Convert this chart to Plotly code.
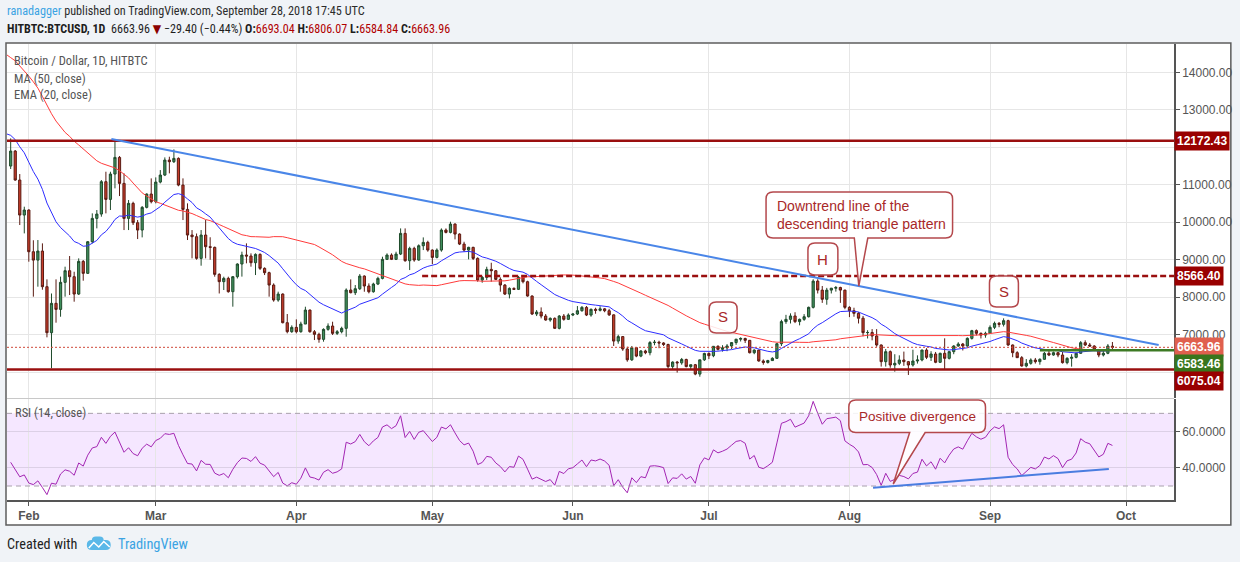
import numpy as np
import pandas as pd
import plotly.graph_objects as go
from plotly.subplots import make_subplots

# daily closes before the visible window (Dec 8 - Jan 27), only used to warm up MA/EMA/RSI
pre_start = '2017-12-08'
pre_closes = [
    16400, 15600, 15400, 16700, 17100, 16400, 16600, 17600, 19300, 19100, 18900, 17500,
    16500, 15700, 13800, 14600, 13900, 14000, 15800, 15400, 14400, 14400, 12600, 13800,
    13400, 14700, 15100, 15100, 16900, 17100, 16200, 14900, 14400, 14900, 13300, 13900,
    14200, 13600, 13600, 11300, 11200, 11500, 11700, 12800, 11500, 10800, 10900, 11400,
    11200, 11100, 11500,
]

start = '2018-01-28'
opens = [
    11499, 11899, 11126, 10192,
    10326, 9214, 8990, 9232, 8281, 7054, 7837, 7676, 8397, 8708, 8548, 8085, 8957, 8637,
    9481, 10103, 10219, 11082, 10610, 11286, 11730, 11037, 10103, 10504, 9988, 9792, 10397, 10752,
    10548, 11072, 11259, 11659, 11615, 11704, 10992, 10343, 9659, 9615, 9037, 9659, 9348, 9330,
    8610, 8415, 8503, 8148, 8548, 8886, 9126, 9099, 8921, 9143, 8770, 8655, 8325, 7925, 8085, 7321, 7081,
    7196, 7080, 7285, 7658, 7080, 7010, 6876, 7143, 7232, 7036, 7080, 7170, 8192, 8121, 8227,
    8565, 8299, 8147, 8352, 8503, 9010, 9125, 9010, 9152, 9703, 8974, 9303, 8992, 9374, 9463,
    9258, 9063, 9258, 9792, 9730, 9952, 9685, 9418, 9258, 9330, 9036, 8458, 8530, 8743, 8707,
    8476, 8325, 8085, 8236, 8210, 8530, 8414, 8032, 7552, 7605, 7498, 7392, 7436, 7170, 7498, 7410,
    7525, 7552, 7640, 7729, 7525, 7677, 7650, 7690, 7640, 7530, 6830, 6950, 6620, 6330, 6655,
    6430, 6566, 6520, 6790, 6800, 6780, 6740, 6150, 6270, 6250, 6340, 6150, 6200, 5950, 6330,
    6500, 6440, 6690, 6610, 6650, 6700, 6790, 6880, 6900, 6850, 6520, 6590, 6300, 6260, 6310,
    6370, 6760, 7350, 7410, 7500, 7350, 7410, 7480, 7730, 8430, 8190, 7945, 8190, 8240, 8260, 8190,
    7730, 7640, 7570, 7440, 7055, 7060, 6966, 6726, 6281, 6548, 6192, 6237, 6326, 6281, 6192,
    6299, 6326, 6592, 6397, 6486, 6264, 6504, 6370, 6548, 6699, 6752, 6699, 6903, 7108, 7037, 6990,
    7037, 7197, 7304, 7277, 7375, 6726, 6521, 6388, 6166, 6237, 6326, 6281, 6344, 6504,
    6459, 6521, 6459, 6255, 6370, 6397, 6504, 6788, 6726, 6699, 6592, 6459, 6504, 6693.04,
]
highs = [
    12237, 11926, 11286, 10415,
    10344, 9520, 9526, 9437, 8477, 8100, 8477, 8550, 8815, 9099, 8680, 9037, 8992, 9499,
    10237, 10326, 11126, 11348, 11348, 12193, 11766, 11304, 10593, 10548, 10059, 10432, 10770, 11170,
    11197, 11392, 11730, 11748, 11944, 11730, 11170, 10504, 9792, 9700, 9792, 10059, 9600, 9350,
    8640, 8548, 8548, 8566, 8904, 9215, 9437, 9170, 9170, 9170, 8797, 8681, 8370, 8148, 8103, 7552, 7250,
    7410, 7347, 7747, 7670, 7125, 7054, 7170, 7303, 7347, 7125, 7214, 8236, 8476, 8325, 8618,
    8583, 8370, 8387, 8547, 9081, 9170, 9170, 9214, 9836, 9836, 9347, 9347, 9410, 9596, 9507,
    9276, 9303, 9836, 9836, 10014, 9970, 9703, 9480, 9347, 9347, 9063, 8565, 8814, 8920, 8725,
    8530, 8352, 8263, 8263, 8565, 8592, 8440, 8050, 7658, 7729, 7552, 7463, 7463, 7525, 7552, 7570,
    7570, 7765, 7765, 7765, 7700, 7720, 7760, 7710, 7690, 7540, 7000, 6960, 6680, 6700, 6670,
    6590, 6600, 6830, 6860, 6840, 6800, 6760, 6290, 6300, 6380, 6360, 6200, 6220, 6330, 6520,
    6530, 6700, 6720, 6720, 6750, 6800, 6890, 6930, 6920, 6860, 6610, 6600, 6340, 6330, 6400,
    6780, 7400, 7530, 7570, 7600, 7430, 7550, 7750, 8480, 8480, 8300, 8250, 8250, 8300, 8280, 8200,
    7760, 7720, 7600, 7500, 7120, 7150, 7150, 6740, 6620, 6580, 6480, 6450, 6550, 6300, 6600,
    6450, 6600, 6640, 6560, 6540, 6520, 6904, 6560, 6720, 6800, 6780, 6930, 7130, 7140, 7060, 7080,
    7250, 7350, 7340, 7437, 7400, 6740, 6560, 6430, 6350, 6370, 6380, 6370, 6540, 6600,
    6550, 6540, 6540, 6400, 6480, 6530, 6830, 6850, 6780, 6720, 6620, 6580, 6750, 6806.07,
]
lows = [
    11420, 11108, 9926, 9703,
    8948, 8015, 8281, 8200, 6930, 6104, 7321, 7480, 8015, 8059, 7881, 8059, 8441, 8620,
    9437, 9837, 10148, 10237, 10326, 10904, 10699, 9792, 9792, 9926, 9552, 9597, 10370, 10504,
    10504, 11037, 11232, 11304, 11580, 10960, 10059, 9526, 9037, 9000, 8841, 9037, 9000, 8548,
    8100, 8192, 8121, 7748, 8500, 8550, 8904, 8815, 8592, 8726, 8592, 8015, 7881, 7880, 7303, 7037, 7050,
    7036, 7054, 7285, 7054, 6858, 6787, 6814, 7107, 6992, 6992, 7036, 6947, 8103, 8059, 8192,
    8147, 8103, 8121, 8325, 8476, 8992, 8992, 8992, 9125, 8947, 8725, 8947, 8974, 9258, 9214,
    8885, 9036, 9214, 9703, 9703, 9543, 9392, 9214, 9010, 8992, 8414, 8387, 8458, 8414, 8458,
    8147, 8059, 7969, 8192, 8192, 8370, 8014, 7525, 7498, 7436, 7374, 7347, 7152, 7143, 7374, 7392,
    7498, 7525, 7614, 7498, 7480, 7560, 7620, 7600, 7500, 6700, 6760, 6570, 6280, 6300, 6400,
    6400, 6480, 6450, 6720, 6640, 6700, 6100, 6080, 5990, 6200, 6130, 6080, 5920, 5880, 6300,
    6350, 6400, 6580, 6550, 6560, 6620, 6730, 6820, 6780, 6500, 6480, 6280, 6200, 6230, 6300,
    6360, 6700, 7290, 7300, 7310, 7250, 7370, 7460, 7700, 8100, 7850, 7800, 8100, 8150, 7850, 7680,
    7470, 7480, 7300, 6960, 6900, 6850, 6680, 6150, 6150, 6120, 6015, 6190, 6170, 5926, 6150,
    6230, 6290, 6350, 6300, 6240, 6250, 6077, 6340, 6480, 6680, 6580, 6680, 6870, 6980, 6900, 6920,
    7020, 7150, 7200, 7220, 6700, 6400, 6380, 6150, 6130, 6200, 6230, 6200, 6330, 6430,
    6440, 6400, 6230, 6210, 6148, 6370, 6490, 6700, 6680, 6560, 6400, 6420, 6480, 6584.84,
]
closes = [
    11899, 11126, 10192, 10326,
    9214, 8990, 9232, 8281, 7054, 7837, 7676, 8397, 8708, 8548, 8085, 8957, 8637, 9481,
    10103, 10219, 11082, 10610, 11286, 11730, 11037, 10103, 10504, 9988, 9792, 10397, 10752, 10548,
    11072, 11259, 11659, 11615, 11704, 10992, 10343, 9659, 9615, 9037, 9659, 9348, 9330, 8610,
    8415, 8503, 8148, 8548, 8886, 9126, 9099, 8921, 9143, 8770, 8655, 8325, 7925, 8085, 7321, 7081, 7196,
    7080, 7285, 7658, 7080, 7010, 6876, 7143, 7232, 7036, 7080, 7170, 8192, 8121, 8227, 8565,
    8299, 8147, 8352, 8503, 9010, 9125, 9010, 9152, 9703, 8974, 9303, 8992, 9374, 9463, 9258,
    9063, 9258, 9792, 9730, 9952, 9685, 9418, 9258, 9330, 9036, 8458, 8530, 8743, 8707, 8476,
    8325, 8085, 8236, 8210, 8530, 8414, 8032, 7552, 7605, 7498, 7392, 7436, 7170, 7498, 7410, 7525,
    7552, 7640, 7729, 7525, 7677, 7650, 7690, 7640, 7530, 6830, 6950, 6620, 6330, 6655, 6430,
    6566, 6520, 6790, 6800, 6780, 6740, 6150, 6270, 6250, 6340, 6150, 6200, 5950, 6330, 6500,
    6440, 6690, 6610, 6650, 6700, 6790, 6880, 6900, 6850, 6520, 6590, 6300, 6260, 6310, 6370,
    6760, 7350, 7410, 7500, 7350, 7410, 7480, 7730, 8430, 8190, 7945, 8190, 8240, 8260, 8190, 7730,
    7640, 7570, 7440, 7055, 7060, 6966, 6726, 6281, 6548, 6192, 6237, 6326, 6281, 6192, 6299,
    6326, 6592, 6397, 6486, 6264, 6504, 6370, 6548, 6699, 6752, 6699, 6903, 7108, 7037, 6990, 7037,
    7197, 7304, 7277, 7375, 6726, 6521, 6388, 6166, 6237, 6326, 6281, 6344, 6504, 6459,
    6521, 6459, 6255, 6370, 6397, 6504, 6788, 6726, 6699, 6592, 6459, 6504, 6699, 6663.96,
]

# horizontal levels drawn on the chart
resistance = 12172.43
neckline = 8566.40
support = 6075.04
green_level = 6583.46
last_price = 6663.96

month_ticks = ['2018-02-01', '2018-03-01', '2018-04-01', '2018-05-01', '2018-06-01',
               '2018-07-01', '2018-08-01', '2018-09-01', '2018-10-01']
month_labels = ['Feb', 'Mar', 'Apr', 'May', 'Jun', 'Jul', 'Aug', 'Sep', 'Oct']
price_ticks = [6000, 7000, 8000, 9000, 10000, 11000, 12000, 13000, 14000]
price_labels = ['', '7000.00', '8000.00', '9000.00', '10000.00', '11000.00', '', '13000.00', '14000.00']
rsi_ticks = [40, 60]

# drawn trend lines: (date, value) pairs
trend_price = [('2018-02-19 05:00', 12219), ('2018-10-08 05:00', 6725)]
trend_rsi = [('2018-08-06 05:00', 29.1), ('2018-09-27 05:00', 39.4)]

dates = pd.date_range(start, periods=len(closes), freq='D')
all_close = pd.Series(pre_closes + closes,
                      index=pd.date_range(pre_start, periods=len(pre_closes) + len(closes), freq='D'))
ma50 = all_close.rolling(50).mean()
ema20 = all_close.ewm(span=20, adjust=False).mean()
delta = all_close.diff()
gain = delta.clip(lower=0).ewm(alpha=1 / 14, adjust=False).mean()
loss = (-delta.clip(upper=0)).ewm(alpha=1 / 14, adjust=False).mean()
rsi = 100 - 100 / (1 + gain / loss)

vis = all_close.index >= pd.Timestamp('2018-01-26')

# layout is measured in window pixels; plot area spans x 7..1177, y 44..500
PL, PR, PT, PB = 7, 1177, 44, 500
FIG_W, FIG_H = 1240, 562


def px(x):
    return (x - PL) / (PR - PL)


def py(y):
    return (PB - y) / (PB - PT)


def box_path(x0, y0, x1, y1, r=7, base=None, tip=None):
    """Rounded box in window pixels, optionally with a pointer on its bottom edge."""
    pts = [('M', x0 + r, y0), ('L', x1 - r, y0), ('Q', x1, y0, x1, y0 + r),
           ('L', x1, y1 - r), ('Q', x1, y1, x1 - r, y1)]
    if base:
        pts += [('L', base[1], y1), ('L', tip[0], tip[1]), ('L', base[0], y1)]
    pts += [('L', x0 + r, y1), ('Q', x0, y1, x0, y1 - r),
            ('L', x0, y0 + r), ('Q', x0, y0, x0 + r, y0)]
    out = []
    for p in pts:
        nums = p[1:]
        coords = [f'{px(nums[i]):.5f},{py(nums[i + 1]):.5f}' for i in range(0, len(nums), 2)]
        out.append(p[0] + ' ' + ' '.join(coords))
    return ' '.join(out) + ' Z'


fig = make_subplots(rows=2, cols=1, shared_xaxes=True, vertical_spacing=0.0)

fig.add_trace(go.Candlestick(
    x=dates, open=opens, high=highs, low=lows, close=closes,
    increasing=dict(line=dict(color='#1f4a2b', width=1), fillcolor='#3f8f5c'),
    decreasing=dict(line=dict(color='#5a1a12', width=1), fillcolor='#c63c2a'),
    whiskerwidth=0, hoverinfo='skip'), row=1, col=1)
fig.add_trace(go.Scatter(x=all_close.index[vis], y=ma50[vis], mode='lines',
                         line=dict(color='#ff3b3b', width=1), hoverinfo='skip'), row=1, col=1)
fig.add_trace(go.Scatter(x=all_close.index[vis], y=ema20[vis], mode='lines',
                         line=dict(color='#2d2dff', width=1), hoverinfo='skip'), row=1, col=1)
fig.add_trace(go.Scatter(x=dates, y=rsi[all_close.index >= pd.Timestamp(start)], mode='lines',
                         line=dict(color='#a325b3', width=1), hoverinfo='skip'), row=2, col=1)

shapes = []
# white chart frame
shapes.append(dict(type='rect', xref='paper', yref='paper', layer='below',
                   x0=px(6), x1=px(1234), y0=py(525), y1=py(43),
                   fillcolor='white', line=dict(color='#5d5d5d', width=1.5)))
# pane separator
shapes.append(dict(type='line', xref='paper', yref='paper', x0=0, x1=1,
                   y0=py(398.5), y1=py(398.5), line=dict(color='#c8c8c8', width=1)))
# RSI band
shapes.append(dict(type='rect', xref='paper', yref='y2', x0=0, x1=1, y0=30, y1=70,
                   fillcolor='rgba(153,21,255,0.1)', line=dict(width=0), layer='between'))
for lv in (30, 70):
    shapes.append(dict(type='line', xref='paper', yref='y2', x0=0, x1=1, y0=lv, y1=lv,
                       line=dict(color='#a8a0ac', width=1, dash='5px,4px')))
# price levels
for lv in (resistance, support):
    shapes.append(dict(type='line', xref='paper', yref='y', x0=0, x1=1, y0=lv, y1=lv,
                       line=dict(color='#9a0f0f', width=2.5)))
shapes.append(dict(type='line', xref='x', yref='y', x0='2018-04-28 18:00', x1='2018-10-20',
                   y0=neckline, y1=neckline, line=dict(color='#9a0f0f', width=2.5, dash='6px,3px')))
shapes.append(dict(type='line', xref='x', yref='y', x0='2018-09-12', x1='2018-10-20',
                   y0=green_level, y1=green_level, line=dict(color='#3d7a24', width=2.5)))
shapes.append(dict(type='line', xref='paper', yref='y', x0=0, x1=1, y0=last_price, y1=last_price,
                   line=dict(color='#d04a3a', width=1, dash='2px,2px')))
# trend lines
shapes.append(dict(type='line', xref='x', yref='y',
                   x0=trend_price[0][0], y0=trend_price[0][1], x1=trend_price[1][0], y1=trend_price[1][1],
                   line=dict(color='#4a86e8', width=2)))
shapes.append(dict(type='line', xref='x2', yref='y2',
                   x0=trend_rsi[0][0], y0=trend_rsi[0][1], x1=trend_rsi[1][0], y1=trend_rsi[1][1],
                   line=dict(color='#4a7de0', width=2)))
# callout boxes
callout_style = dict(type='path', xref='paper', yref='paper',
                     fillcolor='rgba(255,255,255,0.85)', line=dict(color='#b4484c', width=1.5))
shapes.append(dict(callout_style, path=box_path(711, 302, 739, 333)))
shapes.append(dict(callout_style, path=box_path(810, 243, 840, 275)))
shapes.append(dict(callout_style, path=box_path(992, 276, 1021, 307)))
shapes.append(dict(callout_style, path=box_path(768, 192, 955, 238, base=(856.5, 870), tip=(861, 286))))
shapes.append(dict(callout_style, path=box_path(851, 400, 988, 432.5, base=(912, 927.5), tip=(895.5, 484))))
# TradingView logo in the footer
shapes.append(dict(type='path', xref='paper', yref='paper', fillcolor='#5ab8e8', line=dict(width=0),
                   path=box_path(87, 540, 111, 550, r=5)))
shapes.append(dict(type='path', xref='paper', yref='paper', fillcolor='#5ab8e8', line=dict(width=0),
                   path=box_path(92, 536.5, 104, 544, r=4)))
shapes.append(dict(type='path', xref='paper', yref='paper', line=dict(color='white', width=1.5),
                   path=f'M {px(89):.5f},{py(548):.5f} L {px(94):.5f},{py(542.5):.5f} '
                        f'L {px(99):.5f},{py(547):.5f} L {px(104):.5f},{py(541.5):.5f} '
                        f'L {px(110):.5f},{py(547):.5f}'))

ann = []
FONT = 'Liberation Sans, Arial, sans-serif'
NARROW = 'Liberation Sans Narrow, Arial Narrow, Roboto Condensed, DejaVu Sans Condensed, sans-serif'


def text(x, y, s, size=12, color='#333', anchor='left', family=FONT, **kw):
    ann.append(dict(x=px(x), y=py(y), xref='paper', yref='paper', text=s, showarrow=False,
                    xanchor=anchor, yanchor='middle', font=dict(size=size, color=color, family=family), **kw))


text(5, 11, "<span style='color:#3ba3e3'>ranadagger</span> published on TradingView.com, "
            "September 28, 2018 17:45 UTC", size=12.2, color='#2b2b2b', family=NARROW)
text(5, 29, "<b>HITBTC:BTCUSD, 1D</b>  6663.96 <span style='color:#8b0000'>▼</span> −29.40 (−0.44%) "
            "<b>O:</b><span style='color:#b00000'>6693.04</span> <b>H:</b><span style='color:#b00000'>6806.07</span> "
            "<b>L:</b><span style='color:#b00000'>6584.84</span> <b>C:</b><span style='color:#b00000'>6663.96</span>",
     size=12.1, color='#1e1e1e', family=NARROW)
text(12, 61, 'Bitcoin / Dollar, 1D, HITBTC', size=12.5, color='#555', family=NARROW)
text(12, 78, 'MA (50, close)', size=12.5, color='#555', family=NARROW)
text(12, 95, 'EMA (20, close)', size=12.5, color='#555', family=NARROW)
text(13, 412, 'RSI (14, close)', size=12.5, color='#555', family=NARROW)
text(5, 544, 'Created with', size=14.2, color='#222', family=NARROW)
text(116, 544, 'TradingView', size=14.4, color='#3ba3e3', family=NARROW)

text(725, 317, 'S', size=15, color='#a82828', anchor='center')
text(825, 259, 'H', size=15, color='#a82828', anchor='center')
text(1006.5, 291, 'S', size=15, color='#a82828', anchor='center')
text(777, 215, 'Downtrend line of the<br>descending triangle pattern', size=14, color='#a82828', align='left')
text(920, 416, 'Positive divergence', size=13.5, color='#a82828', anchor='center')

# price labels on the right axis: (value, colour, pixel shift)
for val, col, shift in [(resistance, '#990000', 0), (neckline, '#990000', 0),
                        (last_price, '#e0604e', 0), (green_level, '#38761d', -14),
                        (support, '#990000', -12)]:
    ann.append(dict(x=1, xref='paper', y=val, yref='y', yshift=shift, xanchor='left', yanchor='middle',
                    text=f'<b>{val:.2f}</b>', showarrow=False, bgcolor=col, borderpad=2,
                    font=dict(size=12, color='white', family=FONT)))

grid = '#e6e6e6'
fig.update_xaxes(range=['2018-01-27 04:30', '2018-10-11 14:00'], tickvals=month_ticks,
                 showgrid=True, gridcolor=grid, gridwidth=1, zeroline=False,
                 rangeslider_visible=False)
fig.update_xaxes(showticklabels=False, ticks='', row=1, col=1)
fig.update_xaxes(ticktext=month_labels, showticklabels=True, ticks='outside', ticklen=4,
                 tickcolor='#555', showline=True, linecolor='#555', linewidth=1.5,
                 tickfont=dict(size=12, color='#555', family=FONT, weight='bold'), row=2, col=1)
fig.update_yaxes(side='right', showline=True, linecolor='#555', linewidth=1.5, ticks='outside',
                 ticklen=4, tickcolor='#555', gridcolor=grid, zeroline=False,
                 tickfont=dict(size=12, color='#555', family=FONT))
fig.update_yaxes(range=[5312, 14755], tickvals=price_ticks, ticktext=price_labels,
                 domain=[py(398), 1], row=1, col=1)
fig.update_yaxes(range=[22.3, 77.9], tickvals=rsi_ticks, tickformat='.4f',
                 gridcolor='#dcd0e6', domain=[0, py(399)], row=2, col=1)

fig.update_layout(width=FIG_W, height=FIG_H,
                  margin=dict(l=PL, r=FIG_W - PR, t=PT, b=FIG_H - PB),
                  paper_bgcolor='#f0f3f7', plot_bgcolor='white', showlegend=False,
                  shapes=shapes, annotations=ann, dragmode=False)

# the page body has a default 8px margin; drop it so the figure sits at the window corner
fig.write_html('out.html', config={'displayModeBar': False},
               post_script="document.body.style.margin='0px';")
